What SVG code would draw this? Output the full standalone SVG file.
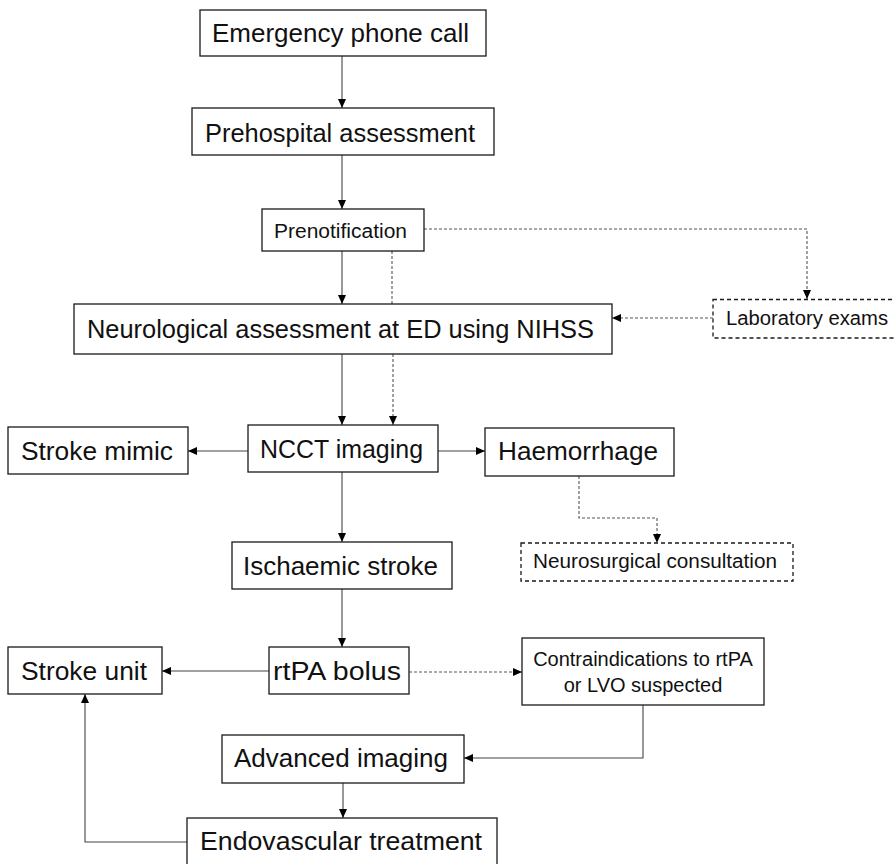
<svg xmlns="http://www.w3.org/2000/svg" width="894" height="864" viewBox="0 0 894 864">
<style>
  .box{fill:#fff;stroke:#1a1a1a;stroke-width:1.3}
  .dbox{fill:#fff;stroke:#1a1a1a;stroke-width:1.3;stroke-dasharray:4 3}
  .big{font-family:"Liberation Sans",Arial,sans-serif;font-size:25.5px;fill:#111;text-anchor:middle}
  .sm{font-family:"Liberation Sans",Arial,sans-serif;font-size:20px;fill:#111;text-anchor:middle}
  .ln{fill:none;stroke:#444;stroke-width:1.1}
  .dl{fill:none;stroke:#555;stroke-width:1.1;stroke-dasharray:3 2}
</style>
<defs>
  <marker id="ah" markerUnits="userSpaceOnUse" markerWidth="10" markerHeight="9" refX="9" refY="4" orient="auto">
    <path d="M0,0 L9,4 L0,8 z" fill="#000"/>
  </marker>
</defs>
<rect width="894" height="864" fill="#fff"/>
<g id="connectors">
  <path class="ln" d="M342,56 V108" marker-end="url(#ah)"/>
  <path class="ln" d="M342,155 V209" marker-end="url(#ah)"/>
  <path class="ln" d="M342,251 V304" marker-end="url(#ah)"/>
  <path class="dl" d="M392,251 V304"/>
  <path class="dl" d="M424,229 H807 V299" marker-end="url(#ah)"/>
  <path class="dl" d="M713,318 H612" marker-end="url(#ah)"/>
  <path class="ln" d="M342,354 V425" marker-end="url(#ah)"/>
  <path class="dl" d="M393,354 V425" marker-end="url(#ah)"/>
  <path class="ln" d="M248,451 H188" marker-end="url(#ah)"/>
  <path class="ln" d="M438,451 H485" marker-end="url(#ah)"/>
  <path class="dl" d="M579,476 V518 H657 V543" marker-end="url(#ah)"/>
  <path class="ln" d="M342,472 V542" marker-end="url(#ah)"/>
  <path class="ln" d="M342,589 V647" marker-end="url(#ah)"/>
  <path class="ln" d="M269,671 H162" marker-end="url(#ah)"/>
  <path class="dl" d="M409,672 H522" marker-end="url(#ah)"/>
  <path class="ln" d="M643,705 V758 H464" marker-end="url(#ah)"/>
  <path class="ln" d="M343,783 V818" marker-end="url(#ah)"/>
  <path class="ln" d="M187,842 H85 V694" marker-end="url(#ah)"/>
</g>
<g id="emergency"><rect class="box" x="200" y="10" width="286" height="46"/><text class="big" x="340.5" y="42" textLength="257" lengthAdjust="spacingAndGlyphs">Emergency phone call</text></g>
<g id="prehospital"><rect class="box" x="192" y="108" width="302" height="47"/><text class="big" x="340" y="142" textLength="270" lengthAdjust="spacingAndGlyphs">Prehospital assessment</text></g>
<g id="prenotification"><rect class="box" x="262" y="209" width="162" height="42"/><text class="sm" x="340.5" y="238" textLength="133" lengthAdjust="spacingAndGlyphs">Prenotification</text></g>
<g id="neuro"><rect class="box" x="74" y="304" width="538" height="50"/><text class="big" x="340.5" y="338" textLength="507" lengthAdjust="spacingAndGlyphs">Neurological assessment at ED using NIHSS</text></g>
<g id="lab"><rect class="dbox" x="713" y="299.5" width="190" height="38.5"/><text class="sm" x="807" y="325" textLength="162" lengthAdjust="spacingAndGlyphs">Laboratory exams</text></g>
<g id="mimic"><rect class="box" x="8" y="427" width="180" height="47"/><text class="big" x="97" y="460" textLength="152" lengthAdjust="spacingAndGlyphs">Stroke mimic</text></g>
<g id="ncct"><rect class="box" x="248" y="425" width="190" height="47"/><text class="big" x="341.5" y="458" textLength="163" lengthAdjust="spacingAndGlyphs">NCCT imaging</text></g>
<g id="haem"><rect class="box" x="485" y="428" width="189" height="48"/><text class="big" x="578" y="460" textLength="160" lengthAdjust="spacingAndGlyphs">Haemorrhage</text></g>
<g id="neurosurg"><rect class="dbox" x="521" y="543" width="272" height="38"/><text class="sm" x="655" y="568" textLength="244" lengthAdjust="spacingAndGlyphs">Neurosurgical consultation</text></g>
<g id="ischaemic"><rect class="box" x="232" y="542" width="220" height="47"/><text class="big" x="340.5" y="575" textLength="195" lengthAdjust="spacingAndGlyphs">Ischaemic stroke</text></g>
<g id="strokeunit"><rect class="box" x="8" y="647" width="154" height="47"/><text class="big" x="84" y="680" textLength="126" lengthAdjust="spacingAndGlyphs">Stroke unit</text></g>
<g id="rtpa"><rect class="box" x="269" y="647" width="140" height="47"/><text class="big" x="337" y="680" textLength="128" lengthAdjust="spacingAndGlyphs">rtPA bolus</text></g>
<g id="contra"><rect class="box" x="522" y="638" width="242" height="67"/><text class="sm" x="643" y="666">Contraindications to rtPA</text><text class="sm" x="643" y="692">or LVO suspected</text></g>
<g id="advanced"><rect class="box" x="222" y="735" width="242" height="48"/><text class="big" x="341" y="767" textLength="214" lengthAdjust="spacingAndGlyphs">Advanced imaging</text></g>
<g id="endo"><rect class="box" x="187" y="818" width="310" height="48"/><text class="big" x="341" y="850" textLength="282" lengthAdjust="spacingAndGlyphs">Endovascular treatment</text></g>
</svg>
